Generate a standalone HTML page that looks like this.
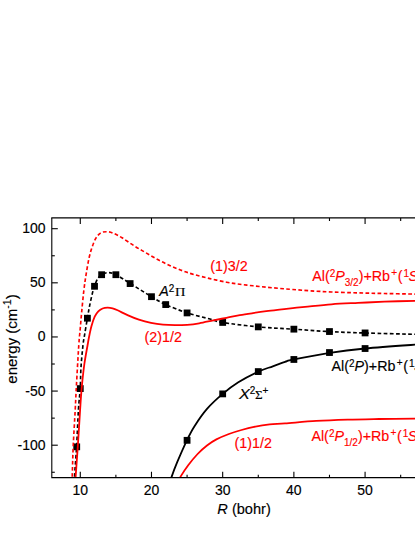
<!DOCTYPE html>
<html><head><meta charset="utf-8">
<style>
html,body{margin:0;padding:0;background:#fff}
html{width:415px;height:537px;overflow:hidden}
body{-webkit-text-stroke:0.15px currentColor;width:415px;height:537px;position:relative;overflow:hidden;font-family:"Liberation Sans",sans-serif;color:#000}
.t{position:absolute;white-space:nowrap;line-height:1;font-size:14px}
.xt{width:40px;text-align:center}
.yt{left:0;width:45.5px;text-align:right}
.a{position:absolute;white-space:nowrap;line-height:1;font-size:14.3px}
.r{color:#ff0000}
sup,sub{font-size:0.7em;line-height:0;font-style:normal}
sup{vertical-align:0.37em}
sub{vertical-align:-0.52em}
i{font-style:italic}
sup.p{font-size:0.7em;margin-left:1.2px;vertical-align:0.5em}
.q{margin-left:0.65px}
sup.o{margin-left:1.1px}
.s{margin-left:-0.6px}
.sy{font-family:"Liberation Serif",serif}
</style></head><body>
<svg width="415" height="537" viewBox="0 0 415 537" style="position:absolute;left:0;top:0">
<defs><clipPath id="c"><rect x="51.80" y="217.88" width="384.48" height="259.80"/></clipPath></defs>
<g clip-path="url(#c)" fill="none" stroke-linejoin="round">
<path d="M74.00,495.00 C74.08,492.02 74.07,485.13 74.50,477.10 C74.93,469.07 75.95,457.98 76.60,446.80 C77.25,435.62 77.80,419.70 78.40,410.00 C79.00,400.30 79.77,395.75 80.20,388.60 C80.63,381.45 80.53,374.37 81.00,367.10 C81.47,359.83 82.40,350.38 83.00,345.00 C83.60,339.62 83.87,339.27 84.60,334.80 C85.33,330.33 86.57,323.02 87.40,318.20 C88.23,313.38 88.67,310.48 89.60,305.90 C90.53,301.32 92.18,293.97 93.00,290.70 C93.82,287.43 93.75,288.25 94.50,286.30 C95.25,284.35 96.32,280.93 97.50,279.00 C98.68,277.07 99.77,275.77 101.60,274.70 C103.43,273.63 106.13,272.60 108.50,272.60 C110.87,272.60 112.20,272.90 115.80,274.70 C119.40,276.50 124.15,279.73 130.10,283.40 C136.05,287.07 145.55,293.17 151.50,296.70 C157.45,300.23 159.87,301.90 165.80,304.60 C171.73,307.30 179.73,310.50 187.10,312.90 C194.47,315.30 204.07,317.40 210.00,319.00 C215.93,320.60 214.65,321.18 222.70,322.50 C230.75,323.82 246.43,325.78 258.30,326.90 C270.17,328.02 282.03,328.42 293.90,329.20 C305.77,329.98 317.62,330.97 329.50,331.60 C341.38,332.23 350.95,332.55 365.20,333.00 C379.45,333.45 403.20,334.00 415.00,334.30 C426.80,334.60 432.50,334.72 436.00,334.80" stroke="#000" stroke-width="1.65" stroke-dasharray="3.7 2.4"/>
<path d="M166.00,495.00 C166.93,491.98 169.73,482.37 171.60,476.90 C173.47,471.43 174.65,468.30 177.20,462.20 C179.75,456.10 184.02,446.30 186.90,440.30 C189.78,434.30 191.15,431.43 194.50,426.20 C197.85,420.97 202.30,414.28 207.00,408.90 C211.70,403.52 217.48,398.33 222.70,393.90 C227.92,389.47 232.35,386.02 238.30,382.30 C244.25,378.58 252.65,374.27 258.40,371.60 C264.15,368.93 268.37,367.93 272.80,366.30 C277.23,364.67 281.50,362.95 285.00,361.80 C288.50,360.65 286.33,360.90 293.80,359.40 C301.27,357.90 317.90,354.62 329.80,352.80 C341.70,350.98 351.00,349.85 365.20,348.50 C379.40,347.15 403.20,345.53 415.00,344.70 C426.80,343.87 432.50,343.70 436.00,343.50" stroke="#000" stroke-width="1.8"/>
<rect x="73.32" y="443.42" width="6.8" height="6.8" fill="#000" stroke="none"/>
<rect x="76.88" y="385.19" width="6.8" height="6.8" fill="#000" stroke="none"/>
<rect x="84.00" y="314.82" width="6.8" height="6.8" fill="#000" stroke="none"/>
<rect x="91.12" y="282.89" width="6.8" height="6.8" fill="#000" stroke="none"/>
<rect x="98.24" y="271.31" width="6.8" height="6.8" fill="#000" stroke="none"/>
<rect x="112.48" y="271.31" width="6.8" height="6.8" fill="#000" stroke="none"/>
<rect x="126.72" y="280.18" width="6.8" height="6.8" fill="#000" stroke="none"/>
<rect x="148.08" y="293.28" width="6.8" height="6.8" fill="#000" stroke="none"/>
<rect x="162.32" y="301.18" width="6.8" height="6.8" fill="#000" stroke="none"/>
<rect x="183.68" y="309.52" width="6.8" height="6.8" fill="#000" stroke="none"/>
<rect x="219.28" y="319.04" width="6.8" height="6.8" fill="#000" stroke="none"/>
<rect x="254.88" y="323.48" width="6.8" height="6.8" fill="#000" stroke="none"/>
<rect x="290.48" y="325.76" width="6.8" height="6.8" fill="#000" stroke="none"/>
<rect x="326.08" y="328.14" width="6.8" height="6.8" fill="#000" stroke="none"/>
<rect x="361.68" y="329.54" width="6.8" height="6.8" fill="#000" stroke="none"/>
<rect x="432.88" y="330.95" width="6.8" height="6.8" fill="#000" stroke="none"/>
<rect x="183.68" y="436.93" width="6.8" height="6.8" fill="#000" stroke="none"/>
<rect x="219.28" y="390.49" width="6.8" height="6.8" fill="#000" stroke="none"/>
<rect x="254.88" y="368.19" width="6.8" height="6.8" fill="#000" stroke="none"/>
<rect x="290.48" y="356.07" width="6.8" height="6.8" fill="#000" stroke="none"/>
<rect x="326.08" y="349.14" width="6.8" height="6.8" fill="#000" stroke="none"/>
<rect x="361.68" y="345.13" width="6.8" height="6.8" fill="#000" stroke="none"/>
<rect x="432.88" y="340.59" width="6.8" height="6.8" fill="#000" stroke="none"/>
<path d="M71.60,495.00 C71.70,492.02 71.93,485.18 72.20,477.10 C72.47,469.02 72.70,457.68 73.20,446.50 C73.70,435.32 74.65,420.40 75.20,410.00 C75.75,399.60 75.90,394.93 76.50,384.10 C77.10,373.27 78.18,354.18 78.80,345.00 C79.42,335.82 79.72,334.55 80.20,329.00 C80.68,323.45 81.08,318.20 81.70,311.70 C82.32,305.20 83.18,296.10 83.90,290.00 C84.62,283.90 85.17,280.32 86.00,275.10 C86.83,269.88 87.93,263.20 88.90,258.70 C89.87,254.20 90.67,251.47 91.80,248.10 C92.93,244.73 94.25,241.00 95.70,238.50 C97.15,236.00 98.73,234.23 100.50,233.10 C102.27,231.97 104.22,231.70 106.30,231.70 C108.38,231.70 110.38,232.08 113.00,233.10 C115.62,234.12 118.48,235.68 122.00,237.80 C125.52,239.92 130.08,243.28 134.10,245.80 C138.12,248.32 142.08,250.57 146.10,252.90 C150.12,255.23 154.18,257.67 158.20,259.80 C162.22,261.93 166.18,263.88 170.20,265.70 C174.22,267.52 178.28,269.22 182.30,270.70 C186.32,272.18 189.68,273.28 194.30,274.60 C198.92,275.92 204.63,277.33 210.00,278.60 C215.37,279.87 221.53,281.25 226.50,282.20 C231.47,283.15 235.38,283.70 239.80,284.30 C244.22,284.90 248.58,285.32 253.00,285.80 C257.42,286.28 261.88,286.77 266.30,287.20 C270.72,287.63 275.08,288.02 279.50,288.40 C283.92,288.78 287.72,289.10 292.80,289.50 C297.88,289.90 303.55,290.38 310.00,290.80 C316.45,291.22 323.50,291.65 331.50,292.00 C339.50,292.35 349.17,292.65 358.00,292.90 C366.83,293.15 375.00,293.30 384.50,293.50 C394.00,293.70 406.42,293.95 415.00,294.10 C423.58,294.25 432.50,294.35 436.00,294.40" stroke="#ff0000" stroke-width="1.65" stroke-dasharray="3.7 2.4"/>
<path d="M74.60,495.00 C74.77,492.02 75.07,485.18 75.60,477.10 C76.13,469.02 77.05,457.68 77.80,446.50 C78.55,435.32 79.45,419.75 80.10,410.00 C80.75,400.25 81.00,395.58 81.70,388.00 C82.40,380.42 83.32,371.67 84.30,364.50 C85.28,357.33 86.83,349.47 87.60,345.00 C88.37,340.53 88.25,340.85 88.90,337.70 C89.55,334.55 90.53,329.60 91.50,326.10 C92.47,322.60 93.57,319.15 94.70,316.70 C95.83,314.25 96.98,312.77 98.30,311.40 C99.62,310.03 101.05,309.12 102.60,308.50 C104.15,307.88 105.93,307.72 107.60,307.70 C109.27,307.68 110.93,307.97 112.60,308.40 C114.27,308.83 115.02,309.13 117.60,310.30 C120.18,311.47 124.55,313.83 128.10,315.40 C131.65,316.97 135.08,318.45 138.90,319.70 C142.72,320.95 146.98,322.07 151.00,322.90 C155.02,323.73 159.00,324.32 163.00,324.70 C167.00,325.08 170.98,325.18 175.00,325.20 C179.02,325.22 183.07,325.12 187.10,324.80 C191.13,324.48 194.83,324.03 199.20,323.30 C203.57,322.57 208.75,321.32 213.30,320.40 C217.85,319.48 222.08,318.67 226.50,317.80 C230.92,316.93 235.38,315.98 239.80,315.20 C244.22,314.42 248.58,313.77 253.00,313.10 C257.42,312.43 261.88,311.78 266.30,311.20 C270.72,310.62 275.08,310.12 279.50,309.60 C283.92,309.08 288.55,308.55 292.80,308.10 C297.05,307.65 298.55,307.53 305.00,306.90 C311.45,306.27 322.67,304.97 331.50,304.30 C340.33,303.63 349.17,303.33 358.00,302.90 C366.83,302.47 375.00,302.05 384.50,301.70 C394.00,301.35 406.42,301.03 415.00,300.80 C423.58,300.57 432.50,300.38 436.00,300.30" stroke="#ff0000" stroke-width="1.8"/>
<path d="M170.00,495.00 C171.73,491.98 177.37,481.85 180.40,476.90 C183.43,471.95 185.33,469.12 188.20,465.30 C191.07,461.48 194.47,457.30 197.60,454.00 C200.73,450.70 203.87,447.93 207.00,445.50 C210.13,443.07 212.75,441.32 216.40,439.40 C220.05,437.48 224.72,435.57 228.90,434.00 C233.08,432.43 237.32,431.18 241.50,430.00 C245.68,428.82 249.30,427.83 254.00,426.90 C258.70,425.97 264.53,424.98 269.70,424.40 C274.87,423.82 277.23,423.98 285.00,423.40 C292.77,422.82 305.85,421.53 316.30,420.90 C326.75,420.27 337.25,419.92 347.70,419.60 C358.15,419.28 367.78,419.17 379.00,419.00 C390.22,418.83 405.50,418.68 415.00,418.60 C424.50,418.52 432.50,418.52 436.00,418.50" stroke="#ff0000" stroke-width="1.8"/>
</g>
<g stroke="#000" stroke-width="1.1" fill="none">
<path d="M51.80,217.88 V477.67 H417.00"/>
<path d="M51.25,217.88 H417.00"/>
<path d="M80.28,217.88 v6.00 M80.28,477.67 v-6.00"/>
<path d="M115.88,217.88 v3.00 M115.88,477.67 v-3.00"/>
<path d="M151.48,217.88 v6.00 M151.48,477.67 v-6.00"/>
<path d="M187.08,217.88 v3.00 M187.08,477.67 v-3.00"/>
<path d="M222.68,217.88 v6.00 M222.68,477.67 v-6.00"/>
<path d="M258.28,217.88 v3.00 M258.28,477.67 v-3.00"/>
<path d="M293.88,217.88 v6.00 M293.88,477.67 v-6.00"/>
<path d="M329.48,217.88 v3.00 M329.48,477.67 v-3.00"/>
<path d="M365.08,217.88 v6.00 M365.08,477.67 v-6.00"/>
<path d="M400.68,217.88 v3.00 M400.68,477.67 v-3.00"/>
<path d="M436.28,217.88 v6.00 M436.28,477.67 v-6.00"/>
<path d="M51.80,472.26 h3.00"/>
<path d="M51.80,445.20 h6.00"/>
<path d="M51.80,418.14 h3.00"/>
<path d="M51.80,391.07 h6.00"/>
<path d="M51.80,364.01 h3.00"/>
<path d="M51.80,336.95 h6.00"/>
<path d="M51.80,309.89 h3.00"/>
<path d="M51.80,282.82 h6.00"/>
<path d="M51.80,255.76 h3.00"/>
<path d="M51.80,228.70 h6.00"/>
</g>
</svg>
<div class="t xt" style="left:60.28px;top:482.6px">10</div>
<div class="t xt" style="left:131.48px;top:482.6px">20</div>
<div class="t xt" style="left:202.68px;top:482.6px">30</div>
<div class="t xt" style="left:273.88px;top:482.6px">40</div>
<div class="t xt" style="left:345.08px;top:482.6px">50</div>
<div class="t yt" style="top:221.20px">100</div>
<div class="t yt" style="top:275.32px">50</div>
<div class="t yt" style="top:329.45px">0</div>
<div class="t yt" style="top:383.57px">-50</div>
<div class="t yt" style="top:437.70px">-100</div>
<div class="a" style="left:217.3px;top:502.4px;font-size:14.6px"><i>R</i> (bohr)</div>
<div class="a" id="yl" style="left:10.6px;top:338.5px;font-size:15px;transform:translate(-50%,-50%) rotate(-90deg)">energy (cm<sup style="vertical-align:0.56em">-1</sup>)</div>
<div class="a" style="left:159.2px;top:283.6px"><i>A</i><sup style="vertical-align:0.42em">2</sup><span class="sy" style="display:inline-block;font-size:0.9em;transform:scaleX(1.12);transform-origin:0 50%;margin-left:0.8px">&Pi;</span></div>
<div class="a r" style="left:144.6px;top:329.8px">(2)1/2</div>
<div class="a r" style="left:210.3px;top:258.7px">(1)3/2</div>
<div class="a r" style="left:312.2px;top:269.0px">Al(<sup>2</sup><i>P</i><sub>3/2</sub>)+Rb<sup class="p">+</sup><span class="q">(</span><sup class="o">1</sup><i class="s">S</i>)</div>
<div class="a" style="left:331.5px;top:358.6px">Al(<sup>2</sup><i>P</i>)+Rb<sup class="p">+</sup><span class="q">(</span><sup class="o">1</sup><i class="s">S</i>)</div>
<div class="a" style="left:239.2px;top:387.3px"><i style="display:inline-block;transform:scaleX(1.13);transform-origin:0 50%;margin-right:0.9px">X</i><sup style="vertical-align:0.5em;margin-left:0.2px">2</sup><span class="sy" style="font-size:0.92em;margin-left:-0.3px">&Sigma;</span><sup class="p" style="margin-left:-0.2px">+</sup></div>
<div class="a r" style="left:234.5px;top:435.6px">(1)1/2</div>
<div class="a r" style="left:311.4px;top:429.0px">Al(<sup>2</sup><i>P</i><sub>1/2</sub>)+Rb<sup class="p">+</sup><span class="q">(</span><sup class="o">1</sup><i class="s">S</i>)</div>
</body></html>
